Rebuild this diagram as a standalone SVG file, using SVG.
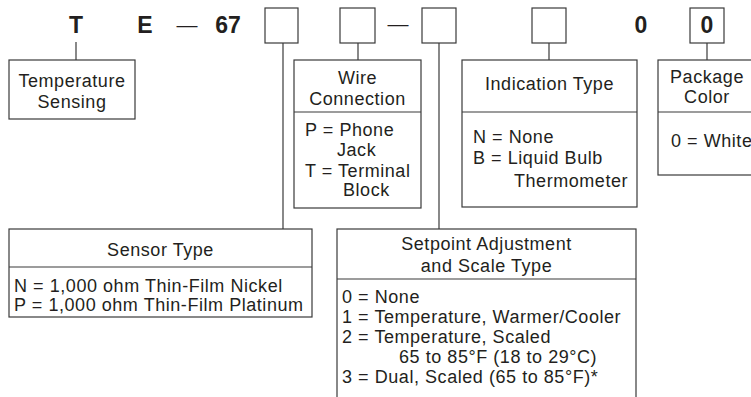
<svg xmlns="http://www.w3.org/2000/svg" width="751" height="397" viewBox="0 0 751 397">
<style>
  .bx { fill: #ffffff; stroke: #3a3a3a; stroke-width: 1.2; }
  .ln { fill: none; stroke: #3a3a3a; stroke-width: 1.2; }
  .t { font-family: "Liberation Sans", Arial, sans-serif; font-size: 18px; letter-spacing: 0.55px; fill: #231f20; }
  .c { text-anchor: middle; }
  .b { font-family: "Liberation Sans", Arial, sans-serif; font-size: 23px; font-weight: bold; fill: #231f20; text-anchor: middle; }
  .d { font-family: "Liberation Sans", Arial, sans-serif; font-size: 21px; fill: #231f20; text-anchor: middle; }
</style>
<rect width="751" height="397" fill="#ffffff"/>

<g id="code">
  <text class="b" x="76" y="33">T</text>
  <text class="b" x="145" y="33">E</text>
  <text class="d" x="187" y="32">—</text>
  <text class="b" x="228" y="33">67</text>
  <rect class="bx" x="265" y="8" width="33" height="35"/>
  <rect class="bx" x="340" y="8" width="35" height="35"/>
  <text class="d" x="398" y="31">—</text>
  <rect class="bx" x="422" y="8" width="34" height="35"/>
  <rect class="bx" x="532" y="8" width="34" height="35"/>
  <text class="b" x="641" y="33">0</text>
  <rect class="bx" x="690" y="8" width="34" height="35"/>
  <text class="b" x="707" y="33">0</text>
</g>

<g id="connectors">
  <line class="ln" x1="76" y1="42" x2="76" y2="60"/>
  <line class="ln" x1="283" y1="43" x2="283" y2="229"/>
  <line class="ln" x1="358" y1="43" x2="358" y2="60"/>
  <line class="ln" x1="439" y1="43" x2="439" y2="229"/>
  <line class="ln" x1="549" y1="43" x2="549" y2="60"/>
  <line class="ln" x1="707" y1="43" x2="707" y2="60"/>
</g>

<g id="temperature-sensing">
  <rect class="bx" x="9" y="60" width="126" height="59"/>
  <text class="t c" x="72" y="87">Temperature</text>
  <text class="t c" x="72" y="108">Sensing</text>
</g>

<g id="wire-connection">
  <rect class="bx" x="294" y="60" width="127" height="148"/>
  <line class="ln" x1="294" y1="112" x2="421" y2="112"/>
  <text class="t c" x="357.5" y="84">Wire</text>
  <text class="t c" x="357.5" y="105">Connection</text>
  <text class="t" x="305" y="136">P = Phone</text>
  <text class="t" x="337" y="156">Jack</text>
  <text class="t" x="305" y="177">T = Terminal</text>
  <text class="t" x="343" y="196">Block</text>
</g>

<g id="indication-type">
  <rect class="bx" x="462" y="60" width="175" height="147"/>
  <line class="ln" x1="462" y1="112" x2="637" y2="112"/>
  <text class="t c" x="549.5" y="90">Indication Type</text>
  <text class="t" x="473" y="143">N = None</text>
  <text class="t" x="473" y="164">B = Liquid Bulb</text>
  <text class="t" x="514" y="187">Thermometer</text>
</g>

<g id="package-color">
  <rect class="bx" x="658" y="60" width="110" height="115"/>
  <line class="ln" x1="658" y1="112" x2="768" y2="112"/>
  <text class="t c" x="707" y="83">Package</text>
  <text class="t c" x="707" y="103">Color</text>
  <text class="t" x="671" y="147">0 = White</text>
</g>

<g id="sensor-type">
  <rect class="bx" x="9" y="229" width="303" height="88"/>
  <line class="ln" x1="9" y1="267" x2="312" y2="267"/>
  <text class="t c" x="160.5" y="256">Sensor Type</text>
  <text class="t" x="14" y="292">N = 1,000 ohm Thin-Film Nickel</text>
  <text class="t" x="14" y="311">P = 1,000 ohm Thin-Film Platinum</text>
</g>

<g id="setpoint-adjustment">
  <rect class="bx" x="337" y="229" width="299" height="190"/>
  <line class="ln" x1="337" y1="279" x2="636" y2="279"/>
  <text class="t c" x="486.5" y="250">Setpoint Adjustment</text>
  <text class="t c" x="486.5" y="272">and Scale Type</text>
  <text class="t" x="342" y="303">0 = None</text>
  <text class="t" x="342" y="323">1 = Temperature, Warmer/Cooler</text>
  <text class="t" x="342" y="343">2 = Temperature, Scaled</text>
  <text class="t" x="399" y="363">65 to 85°F (18 to 29°C)</text>
  <text class="t" x="342" y="383">3 = Dual, Scaled (65 to 85°F)*</text>
</g>
</svg>
